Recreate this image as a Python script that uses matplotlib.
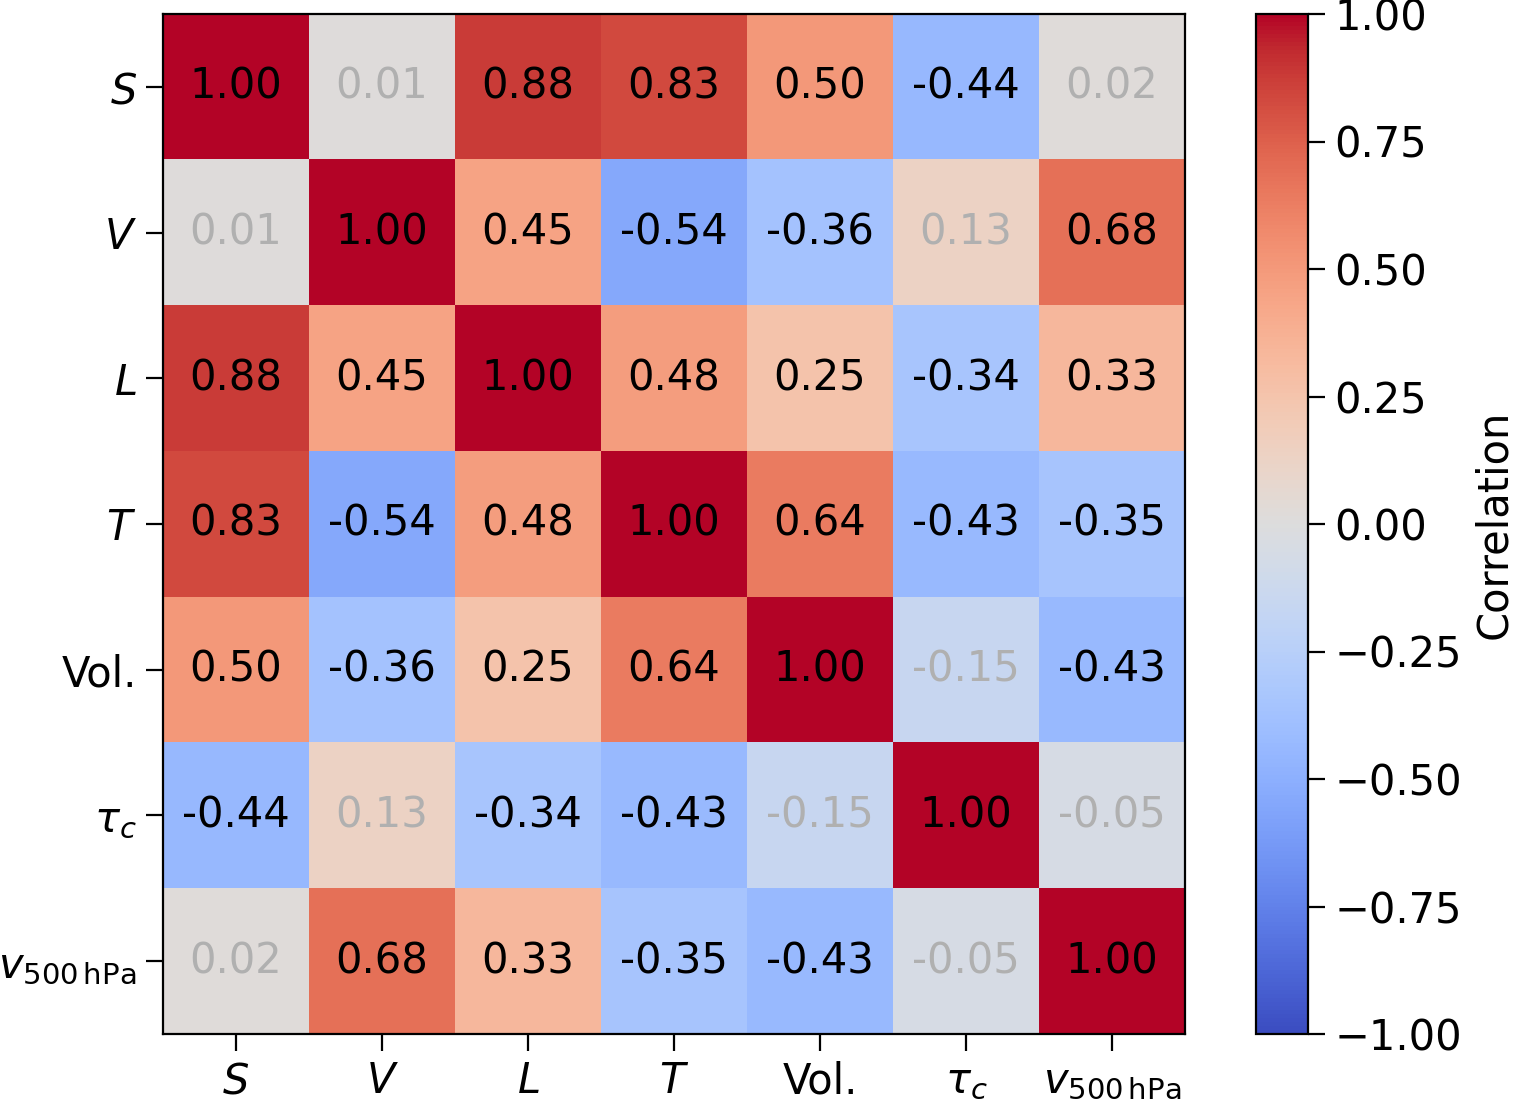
import matplotlib
matplotlib.use("Agg")
import matplotlib.pyplot as plt
import numpy as np

labels = ["$S$", "$V$", "$L$", "$T$", "Vol.", r"$\tau_c$", r"$v_{500\,\mathrm{hPa}}$"]
corr = np.array([
    [1.00, 0.01, 0.88, 0.83, 0.50, -0.44, 0.02],
    [0.01, 1.00, 0.45, -0.54, -0.36, 0.13, 0.68],
    [0.88, 0.45, 1.00, 0.48, 0.25, -0.34, 0.33],
    [0.83, -0.54, 0.48, 1.00, 0.64, -0.43, -0.35],
    [0.50, -0.36, 0.25, 0.64, 1.00, -0.15, -0.43],
    [-0.44, 0.13, -0.34, -0.43, -0.15, 1.00, -0.05],
    [0.02, 0.68, 0.33, -0.35, -0.43, -0.05, 1.00],
])

plt.rcParams['font.size'] = 14
fig = plt.figure(figsize=(7.565, 5.51), dpi=200)
ax = fig.add_axes([163/1513, 1-1034/1102, (1185-163)/1513, (1034-14)/1102])
cax = fig.add_axes([1256/1513, 1-1034/1102, (1308-1256)/1513, (1034-14)/1102])
im = ax.imshow(corr, cmap="coolwarm", vmin=-1, vmax=1, aspect="auto")
n = len(labels)
for i in range(n):
    for j in range(n):
        v = corr[i, j]
        ax.text(j, i, f"{v:.2f}", ha="center", va="center", fontsize=15,
                color="black" if abs(v) >= 0.2 else "#b0b0b0")
ax.set_xticks(range(n))
ax.set_xticklabels(labels, fontsize=15)
ax.set_yticks(range(n))
ax.set_yticklabels(labels, fontsize=15)
ax.tick_params(length=6)
cb = fig.colorbar(im, cax=cax, ticks=np.arange(-1, 1.01, 0.25))
cb.ax.set_yticklabels([f"{t:.2f}".replace("-", "\u2212") for t in np.arange(-1, 1.01, 0.25)], fontsize=15)
cb.set_label("Correlation", fontsize=15)
cb.ax.tick_params(length=6)
fig.savefig("out.png", dpi=200)
